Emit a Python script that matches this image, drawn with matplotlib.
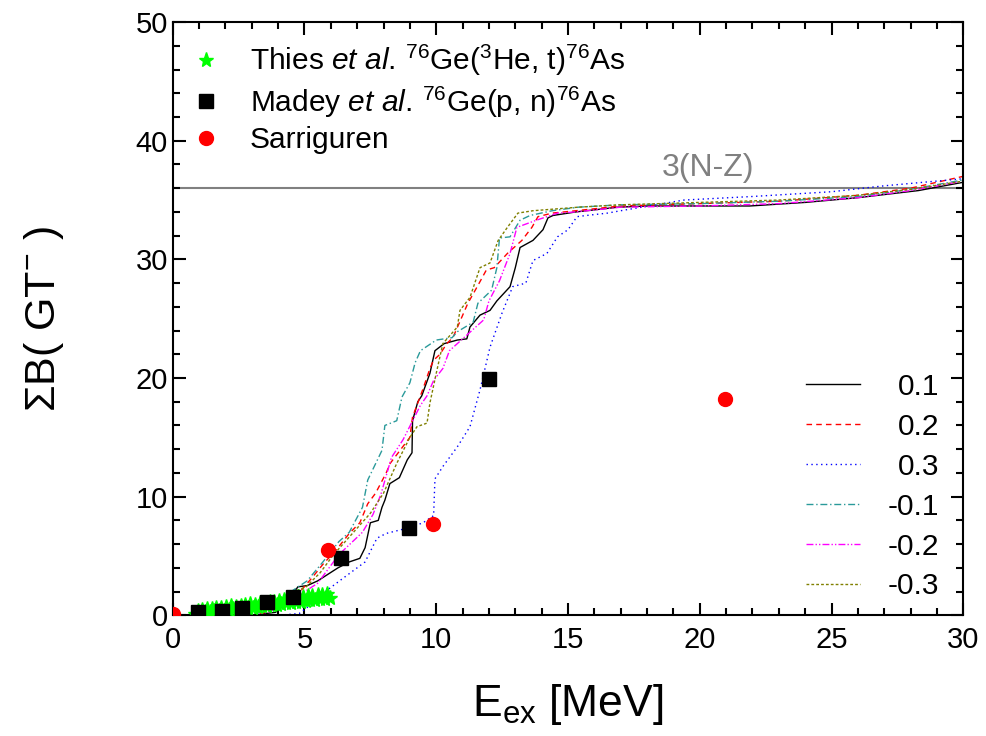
import numpy as np
import matplotlib
matplotlib.use("Agg")
import matplotlib.pyplot as plt

plt.rcParams['font.family'] = ['Liberation Sans', 'DejaVu Sans']
plt.rcParams['mathtext.fontset'] = 'custom'
plt.rcParams['mathtext.rm'] = 'Liberation Sans'
plt.rcParams['mathtext.it'] = 'Liberation Sans:italic'
plt.rcParams['mathtext.default'] = 'regular'

# ---- data ----
thies_E = [0.85, 0.95, 1.05, 1.12, 1.22, 1.3, 1.4, 1.48, 1.58, 1.66, 1.75, 1.85, 1.93, 2.02,
           2.12, 2.2, 2.3, 2.4, 2.48, 2.58, 2.66, 2.76, 2.85, 2.95, 3.05, 3.12, 3.22, 3.3,
           3.4, 3.5, 3.58, 3.68, 3.76, 3.86, 3.95, 4.05, 4.12, 4.22, 4.3, 4.4, 4.5, 4.58,
           4.68, 4.76, 4.86, 4.95, 5.05, 5.12, 5.22, 5.3, 5.4, 5.5, 5.58, 5.68, 5.76, 5.86, 5.95]
thies_B = [0.15, 0.35, 0.2, 0.45, 0.25, 0.5, 0.3, 0.55, 0.35, 0.6, 0.4, 0.65, 0.4, 0.7,
           0.45, 0.75, 0.5, 0.7, 0.5, 0.8, 0.55, 0.85, 0.6, 0.95, 0.65, 0.9, 0.7, 1.0,
           0.75, 1.05, 0.8, 1.1, 0.85, 1.15, 0.9, 1.2, 0.95, 1.3, 1.0, 1.35, 1.05, 1.45,
           1.1, 1.5, 1.15, 1.55, 1.2, 1.6, 1.25, 1.65, 1.3, 1.7, 1.35, 1.75, 1.4, 1.8, 1.45]

madey_E = [0.95, 1.86, 2.62, 3.57, 4.56, 6.38, 8.96, 12.0]
madey_B = [0.25, 0.4, 0.6, 1.1, 1.5, 4.8, 7.4, 19.9]

sarr_E = [0.0, 5.89, 9.87, 20.96]
sarr_B = [0.1, 5.5, 7.7, 18.2]

e_p01 = [0, 3.0, 3.9, 4.3, 4.75, 5.1, 5.5, 5.85, 6.27, 6.7, 7.1, 7.3, 7.5, 7.8, 7.94, 8.05,
         8.24, 8.6, 8.9, 9.08, 9.1, 9.3, 9.45, 9.76, 9.95, 10.3, 10.8, 11.16, 11.28, 11.66,
         12.04, 12.3, 12.8, 13.0, 13.18, 13.67, 14.05, 14.24, 14.43, 15.3, 16.9, 18, 20,
         21.9, 24, 26, 28.3, 30]
b_p01 = [0, 0, 0.25, 1.0, 2.4, 2.5, 2.9, 3.4, 4.0, 4.5, 4.8, 5.7, 7.8, 8.0, 9.1, 9.7,
         11.1, 11.6, 13.1, 13.7, 16.4, 18.0, 18.5, 20.4, 22.3, 22.9, 23.2, 23.3, 24.3, 25.3,
         25.7, 26.5, 27.7, 29.3, 31.0, 31.6, 32.5, 33.5, 33.7, 34.0, 34.4, 34.5, 34.5,
         34.5, 34.8, 35.2, 35.8, 36.5]

e_p02 = [0, 3.2, 4.2, 4.8, 5.3, 5.7, 6.2, 6.7, 7.1, 7.4, 7.7, 8.1, 8.25, 9.0, 9.1, 9.5,
         9.76, 9.9, 10.14, 10.4, 10.63, 11.2, 11.58, 11.9, 12.2, 12.7, 13.25, 13.63, 13.86,
         14.4, 15.3, 17, 20, 23, 26, 28, 30]
b_p02 = [0, 0, 0.8, 1.9, 3.2, 4.3, 5.5, 6.9, 7.8, 9.4, 10.3, 12.0, 12.8, 15.0, 16.7, 19.1,
         20.8, 21.5, 22.0, 22.9, 23.4, 26.3, 27.8, 29.1, 29.3, 30.5, 31.6, 32.7, 33.6,
         33.9, 34.1, 34.5, 34.7, 34.9, 35.4, 36.0, 37.0]

e_p03 = [0, 4.0, 4.8, 5.3, 5.85, 6.45, 7.3, 7.75, 8.1, 9.0, 9.5, 9.9, 9.95, 10.27, 10.8,
         11.28, 11.66, 12.04, 12.5, 12.9, 13.4, 13.67, 14.2, 14.6, 15.0, 15.34, 15.7, 16.5,
         17.0, 19.4, 22, 25, 27, 30]
b_p03 = [0, 0, 0.15, 1.0, 2.1, 3.1, 4.5, 6.5, 6.9, 7.4, 7.8, 8.4, 11.5, 12.6, 14.2,
         15.9, 19.0, 22.6, 25.5, 27.7, 28.0, 29.9, 30.5, 31.9, 32.5, 33.6, 33.7, 33.9,
         34.1, 35.0, 35.3, 35.7, 36.2, 36.8]

e_m01 = [0, 3.0, 4.0, 4.56, 5.1, 5.7, 6.3, 6.7, 7.2, 7.4, 7.94, 8.05, 8.5, 8.7, 9.0, 9.2,
         9.4, 10.0, 10.6, 10.8, 11.4, 11.58, 12.1, 12.3, 12.4, 12.8, 13.18, 13.56, 14.4,
         15.4, 17, 20, 23, 26, 28, 30]
b_m01 = [0, 0, 0.8, 2.1, 2.9, 4.5, 6.2, 7.0, 9.1, 11.4, 13.9, 16.0, 16.4, 18.4, 19.6, 21.3,
         22.3, 23.2, 23.4, 23.9, 24.7, 26.3, 27.4, 29.3, 31.8, 31.9, 33.3, 33.7, 34.1,
         34.4, 34.6, 34.7, 34.9, 35.3, 35.9, 36.7]

e_m02 = [0, 3.2, 4.2, 4.8, 5.5, 6.3, 7.2, 7.6, 7.9, 8.3, 8.74, 9.4, 9.65, 9.9, 10.25,
         10.5, 11.8, 12.0, 12.4, 12.8, 13.06, 13.8, 14.6, 15.3, 17, 20, 23, 26, 28, 30]
b_m02 = [0, 0, 0.7, 1.7, 2.7, 5.1, 7.0, 8.5, 10.2, 13.3, 14.8, 17.7, 18.5, 19.8, 20.8,
         22.3, 24.9, 26.5, 28.2, 30.5, 32.7, 33.3, 33.9, 34.0, 34.4, 34.5, 34.7, 35.2, 35.8, 36.6]

e_m03 = [0, 3.0, 4.0, 4.44, 5.06, 5.6, 6.1, 6.7, 7.5, 8.0, 8.5, 9.0, 9.27, 9.65, 9.76,
         10.0, 10.25, 10.8, 10.9, 11.28, 11.66, 12.04, 12.35, 12.7, 13.1, 13.67, 15.4, 17,
         20, 23, 26, 28, 30]
b_m03 = [0, 0, 0.9, 1.85, 2.4, 3.6, 5.1, 6.6, 8.6, 10.3, 12.8, 15.0, 15.9, 16.2, 17.9,
         20.4, 22.9, 24.3, 25.7, 26.8, 29.3, 29.7, 31.6, 32.7, 33.9, 34.1, 34.4, 34.6,
         34.8, 35.0, 35.4, 35.9, 36.6]

sum_rule = 36.0
sum_label = '3(N-Z)'

fig, ax = plt.subplots(figsize=(9.87, 7.36), dpi=100)
fig.subplots_adjust(left=0.175, right=0.976, bottom=0.164, top=0.970)

ax.axhline(sum_rule, color='#808080', lw=1.5, zorder=1)
ax.text(20.3, sum_rule + 0.4, sum_label, color='#808080', fontsize=23,
        ha='center', va='bottom')

l1, = ax.plot(e_p01, b_p01, color='black', lw=1.0, ls='-')
l2, = ax.plot(e_p02, b_p02, color='#ff0000', lw=1.0, ls=(0, (4, 3)))
l3, = ax.plot(e_p03, b_p03, color='#0000ff', lw=1.0, ls=(0, (1, 2.5)))
l4, = ax.plot(e_m01, b_m01, color='#2a9a9a', lw=1.0, ls=(0, (5, 2, 1, 2)))
l5, = ax.plot(e_m02, b_m02, color='#ff00ff', lw=1.0, ls=(0, (5, 1.5, 1, 1.5, 1, 1.5)))
l6, = ax.plot(e_m03, b_m03, color='#808000', lw=1.0, ls=(0, (2, 1.5)))

h_th, = ax.plot(thies_E, thies_B, ls='none', marker='*', ms=11, color='#00ff00',
                mec='#00ff00', zorder=3)
h_md, = ax.plot(madey_E, madey_B, ls='none', marker='s', ms=9.5, color='black', zorder=4)
h_sa, = ax.plot(sarr_E, sarr_B, ls='none', marker='o', ms=10, color='#ff0000', zorder=4)

ax.set_xlim(0, 30)
ax.set_ylim(0, 50)
ax.set_xticks(np.arange(0, 31, 5))
ax.set_yticks(np.arange(0, 51, 10))
ax.set_xticks(np.arange(0, 31, 1), minor=True)
ax.set_yticks(np.arange(0, 51, 2), minor=True)
ax.tick_params(which='both', direction='in', top=True, right=True, labelsize=21, width=1.5)
ax.tick_params(which='major', length=9)
ax.tick_params(which='minor', length=5)
ax.tick_params(axis='x', pad=8)
for s in ax.spines.values():
    s.set_linewidth(1.5)

ax.set_xlabel('E$_{ex}$ [MeV]', fontsize=32, labelpad=20)
ax.set_ylabel('ΣB( GT$^{-}$ )', fontsize=31, labelpad=50)

leg1 = ax.legend([h_th, h_md, h_sa],
                 ['Thies $\\it{et\\ al.}\\,^{76}$Ge($^{3}$He, t)$^{76}$As',
                  'Madey $\\it{et\\ al.}\\,^{76}$Ge(p, n)$^{76}$As',
                  'Sarriguren'],
                 loc='upper left', bbox_to_anchor=(0.02, 0.965), frameon=False,
                 fontsize=21.5, borderpad=0, borderaxespad=0, handlelength=1.2,
                 handletextpad=0.85, labelspacing=0.22, numpoints=1)
ax.add_artist(leg1)

leg2 = ax.legend([l1, l2, l3, l4, l5, l6], ['0.1', '0.2', '0.3', '-0.1', '-0.2', '-0.3'],
                 loc='lower right', bbox_to_anchor=(0.97, 0.025), frameon=False,
                 fontsize=21.5, borderpad=0, borderaxespad=0, handlelength=1.8,
                 handletextpad=0.95, labelspacing=0.40)

# right-align the numeric labels of the second legend
fig.canvas.draw()
texts = leg2.get_texts()
widths = [t.get_window_extent().width for t in texts]
wmax = max(widths)
for t, w in zip(texts, widths):
    t.set_position((wmax - w, 0))

fig.savefig('out.png', dpi=100)
